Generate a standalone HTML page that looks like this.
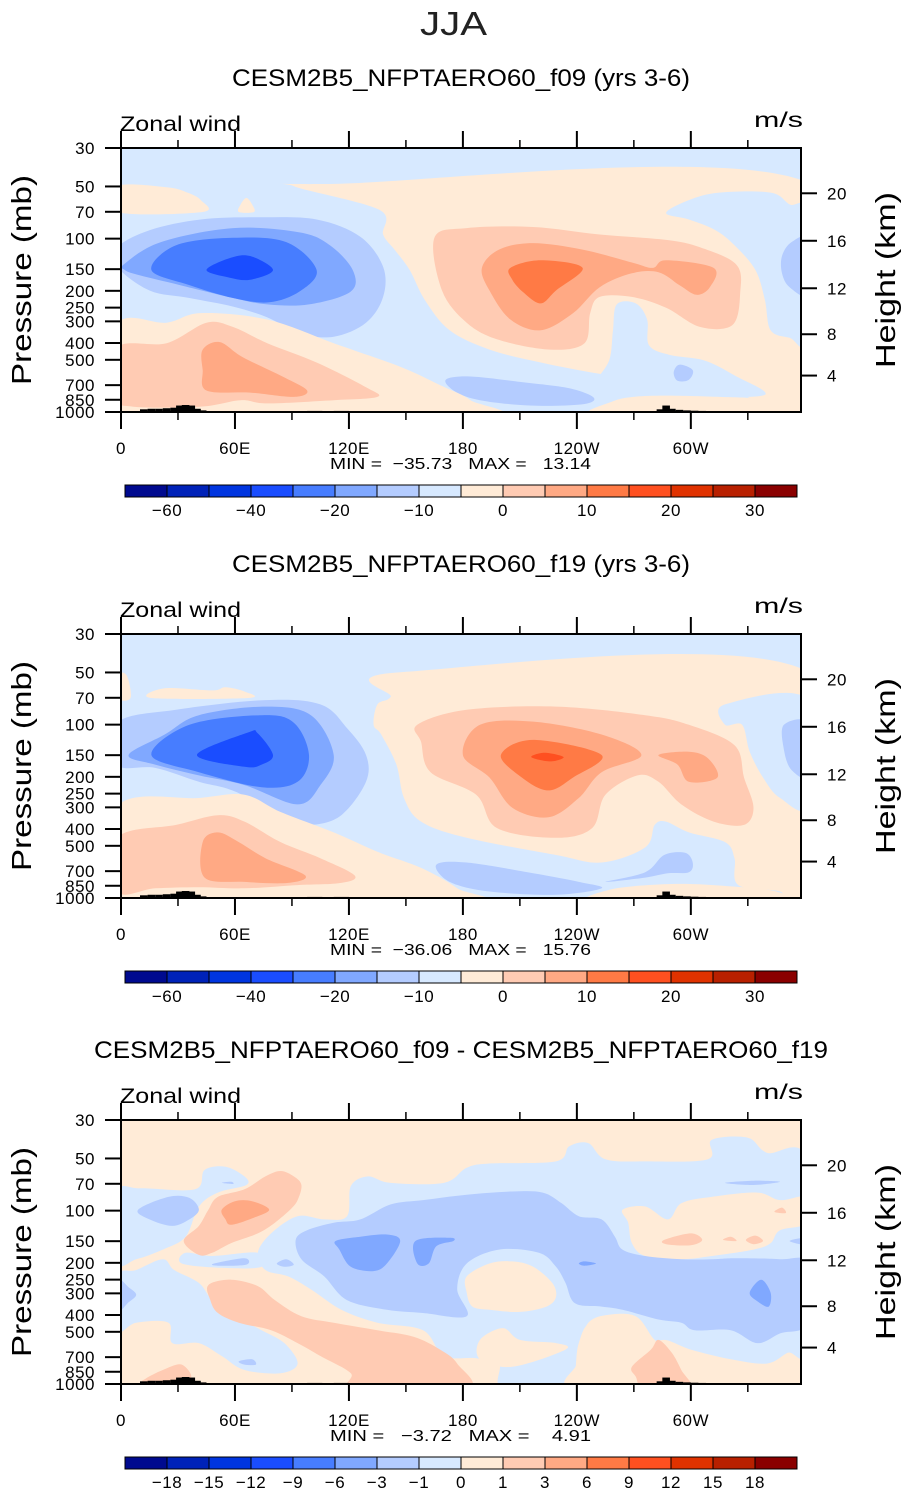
<!DOCTYPE html>
<html><head><meta charset="utf-8"><title>JJA Zonal wind</title>
<style>
html,body{margin:0;padding:0;background:#fff;}
svg{display:block;}
text{font-family:"Liberation Sans",sans-serif;fill:#000;}
.tk{font-size:17px;letter-spacing:0.5px;}
.ttl{font-size:24px;}
.ax{font-size:28px;}
.mm{font-size:16px;white-space:pre;}
</style></head>
<body>
<svg id="fig" width="907" height="1493" viewBox="0 0 907 1493" xmlns="http://www.w3.org/2000/svg">
<text x="420" y="35" textLength="67" lengthAdjust="spacingAndGlyphs" style="font-size:33px;fill:#222">JJA</text>
<text class="ttl" x="232" y="86" textLength="458" lengthAdjust="spacingAndGlyphs">CESM2B5_NFPTAERO60_f09 (yrs 3-6)</text>
<text class="ttl" x="232" y="572" textLength="458" lengthAdjust="spacingAndGlyphs">CESM2B5_NFPTAERO60_f19 (yrs 3-6)</text>
<text class="ttl" x="94" y="1058" textLength="734" lengthAdjust="spacingAndGlyphs">CESM2B5_NFPTAERO60_f09 - CESM2B5_NFPTAERO60_f19</text>
<g id="panels"></g>
</svg>
<script>
// ---------- data ----------
const fillColors = ["#000a8f","#0022b8","#0035e0","#1a4dff","#477dff","#80a8ff","#b4ccff","#d7e9ff","#ffebd7","#ffcbb3","#ffa984","#ff7a45","#ff5020","#e03200","#b82000","#8a0000"];
const cbLabels12 = ["-60","","-40","","-20","","-10","","0","","10","","20","","30"];
const cbLabels3 = ["-18","-15","-12","-9","-6","-3","-1","0","1","3","6","9","12","15","18"];
const pressureTicks = [30,50,70,100,150,200,250,300,400,500,700,850,1000];
const heightTicks = [4,8,12,16,20];
const lonMajor = [0,60,120,180,240,300];
const lonLabels = ["0","60E","120E","180","120W","60W"];
const lonMinor = [30,90,150,210,270,330];
const minVals = ["-35.73","-36.06","-3.72"];
const maxVals = ["13.14","15.76","4.91"];
const bgLevels = [7,7,8];
// topography bars: [lon, height in log-p km]
const topo = [[10,0.25],[14,0.3],[18,0.3],[22,0.35],[26,0.4],[29,0.6],[32,0.65],[35,0.6],[38,0.3],[41,0.15],[98,0.1],[102,0.1],[112,0.1],[116,0.1],[282,0.25],[285,0.6],[288,0.3],[292,0.2],[296,0.15],[300,0.12],[304,0.1]];

// contour regions: [levelIndex, [[lon, z(log-p km)], ...]]
const p1Regions = [
 [8,[[91,21.0],[110,21.2],[362,21.3],[362,0.7],[342,0.5],[326,1.6],[299,2.2],[273,3.0],[247,3.7],[221,4.6],[194,5.8],[173,7.6],[160,10.4],[152,13.2],[144,15.1],[138,16.5],[136,18.8]]],
 [8,[[-2,21.0],[24,20.9],[35,20.4],[42,19.7],[43,18.6],[-2,18.6]]],
 [8,[[63,19.3],[66,19.9],[69,19.3],[70,18.6],[62,18.6]]],
 [7,[[287,18.5],[299,19.7],[315,20.4],[342,20.4],[352,19.3],[362,18.3],[362,6.7],[352,6.9],[342,7.6],[339,10.4],[334,13.2],[323,15.5],[313,16.9],[299,17.9]]],
 [7,[[261,10.0],[271,10.1],[277,8.6],[278,6.2],[289,5.3],[307,4.8],[323,3.4],[339,1.6],[305,1.4],[273,1.4],[252,1.1],[249,2.5],[257,4.8],[259,7.6]]],
 [8,[[250,-0.5],[259,1.0],[278,1.5],[315,1.4],[336,1.1],[345,-0.5]]],
 [6,[[362,16.0],[353,15.8],[348,14.5],[348,12.9],[352,11.6],[362,11.0]]],
 [6,[[171,3.0],[184,3.3],[210,2.8],[236,2.2],[249,1.3],[242,0.7],[215,0.6],[189,1.1],[176,1.9]]],
 [6,[[291,3.7],[294,4.4],[301,3.9],[299,3.0],[293,2.9]]],
 [9,[[165,16.2],[182,17.1],[217,17.2],[252,16.5],[287,16.0],[305,15.3],[324,13.7],[326,11.1],[322,8.1],[305,7.9],[287,9.7],[269,10.7],[252,10.7],[247,9.2],[244,6.4],[226,5.8],[199,6.7],[182,8.3],[169,11.3]]],
 [10,[[190,13.4],[199,15.1],[217,15.7],[243,15.1],[269,13.9],[280,13.4],[287,14.1],[312,13.4],[310,11.6],[303,10.9],[294,11.8],[283,13.0],[269,12.9],[252,11.6],[238,9.2],[221,7.6],[205,8.6],[194,11.3]]],
 [11,[[205,13.4],[221,14.1],[243,13.4],[229,11.3],[221,10.1],[212,11.1],[206,12.3]]],
 [6,[[-2,15.3],[15,16.9],[42,17.9],[73,18.1],[103,17.9],[126,16.3],[138,13.5],[138,10.7],[129,8.3],[112,7.0],[94,7.3],[77,8.8],[59,9.8],[36,10.6],[15,11.3],[-2,13.5]]],
 [5,[[2,13.8],[21,15.8],[59,17.1],[94,16.7],[110,15.5],[122,13.2],[121,11.2],[99,10.0],[77,10.0],[59,10.6],[31,11.8],[10,12.7],[2,13.2]]],
 [4,[[16,13.2],[29,15.5],[59,16.2],[87,15.8],[103,13.2],[94,11.2],[78,10.2],[59,10.6],[36,11.8]]],
 [3,[[45,13.2],[57,14.3],[68,14.5],[80,13.2],[68,12.3],[57,12.5]]],
 [8,[[-2,8.1],[24,8.3],[42,9.2],[77,8.6],[112,6.4],[147,4.2],[168,2.5],[184,1.1],[189,-0.5],[-2,-0.5]]],
 [9,[[-2,6.0],[24,6.4],[45,8.3],[59,7.9],[77,6.4],[103,4.6],[129,2.3],[135,1.4],[112,1.1],[77,0.8],[63,1.1],[42,0.5],[6,0.5],[-2,1.4]]],
 [10,[[43,5.8],[52,6.5],[64,5.1],[85,3.3],[98,2.0],[91,1.4],[68,1.8],[45,2.0],[43,3.9]]]
];
const p2Regions = [
 [8,[[148,21.0],[362,21.0],[362,-0.5],[350,-0.5],[347,0.6],[325,1.2],[323,3.7],[318,5.2],[299,6.1],[287,7.1],[281,6.8],[276,4.7],[253,3.3],[229,4.0],[182,5.6],[158,7.1],[149,9.3],[145,12.4],[137,15.2],[133,16.1],[135,18.0],[142,18.7]]],
 [8,[[250,-0.5],[258,0.8],[290,1.3],[320,1.1],[345,0.6],[350,-0.5]]],
 [7,[[318,18.0],[362,18.4],[362,8.7],[347,9.3],[338,11.2],[331,13.6],[327,16.1],[318,16.1]]],
 [6,[[166,3.1],[182,3.3],[217,2.3],[241,1.5],[253,0.9],[229,0.3],[194,0.6],[173,1.5]]],
 [6,[[255,1.5],[276,2.4],[286,4.0],[297,4.2],[301,3.3],[299,2.4],[288,2.3],[276,1.9]]],
 [6,[[362,16.2],[349,16.1],[349,13.8],[353,11.9],[362,11.4]]],
 [9,[[156,16.1],[182,17.5],[229,17.8],[276,17.0],[299,16.1],[323,14.2],[328,11.2],[333,8.4],[328,6.8],[312,7.1],[295,8.7],[283,10.8],[272,11.4],[255,9.6],[248,6.5],[229,5.6],[198,6.5],[187,9.6],[163,11.7],[158,14.5]]],
 [10,[[180,13.3],[189,16.1],[217,16.4],[253,15.2],[274,13.3],[253,11.7],[241,9.3],[225,7.5],[206,8.4],[194,11.2]]],
 [10,[[283,13.3],[299,13.6],[309,13.0],[314,11.2],[299,10.8],[293,12.4]]],
 [11,[[200,13.3],[217,14.7],[253,13.3],[238,11.2],[225,10.0],[211,11.2]]],
 [12,[[216,13.1],[223,13.5],[233,13.1],[226,12.7]]],
 [6,[[-2,16.3],[29,17.5],[76,18.4],[105,18.0],[119,15.8],[129,13.3],[129,10.8],[116,7.7],[100,6.8],[88,7.4],[60,9.9],[41,10.8],[18,12.1],[-2,12.4]]],
 [5,[[4,13.3],[23,15.2],[41,17.0],[76,17.8],[100,17.0],[112,13.3],[105,10.5],[93,8.7],[65,10.5],[41,11.4],[18,12.4]]],
 [4,[[16,13.3],[36,16.1],[74,17.0],[91,16.3],[99,13.3],[93,10.8],[74,10.3],[41,11.7]]],
 [3,[[40,13.3],[67,15.4],[72,15.3],[80,13.3],[74,12.4],[65,12.2]]],
 [8,[[16,18.6],[23,19.5],[48,19.3],[55,19.6],[65,19.2],[67,18.6]]],
 [8,[[-2,20.7],[3,20.7],[5,18.6],[-2,18.6]]],
 [8,[[-2,8.5],[41,9.3],[65,9.6],[84,8.0],[112,6.1],[135,4.3],[158,2.8],[177,0.9],[182,-0.5],[-2,-0.5]]],
 [9,[[-2,5.6],[29,6.8],[51,7.7],[65,7.1],[84,5.2],[105,3.7],[123,2.1],[116,1.4],[93,1.2],[65,0.9],[41,1.0],[18,0.9],[-2,0.6]]],
 [10,[[43,5.2],[51,6.1],[62,5.2],[76,3.7],[97,2.1],[88,1.4],[65,1.5],[44,1.9]]]
];
const p3Regions = [
 [7,[[-2,17.8],[10,18.2],[39,18.1],[44,19.9],[55,20.2],[65,19.3],[66,18.5],[51,17.8],[41,16.5],[34,13.7],[22,12.5],[8,11.6],[-2,11.4]]],
 [7,[[34,12.2],[48,11.9],[72,12.2],[74,10.9],[53,10.8],[32,11.2]]],
 [7,[[-2,10.0],[8,10.6],[22,11.6],[28,10.6],[41,9.4],[48,7.8],[60,6.3],[74,5.0],[86,3.8],[93,1.9],[84,1.0],[65,1.3],[53,2.6],[41,3.8],[27,3.8],[25,5.7],[8,5.7],[-2,5.0]]],
 [7,[[121,18.4],[130,19.3],[142,18.7],[170,18.7],[182,20.1],[194,20.5],[229,20.7],[236,22.1],[246,22.4],[255,20.9],[276,20.7],[309,20.9],[311,22.7],[330,22.9],[340,21.5],[362,20.5],[362,3.8],[351,2.9],[340,1.9],[321,2.3],[300,3.2],[286,4.1],[276,3.5],[267,4.4],[248,5.7],[241,3.8],[239,1.0],[236,-0.5],[201,-0.5],[199,1.9],[187,2.4],[170,2.6],[159,5.0],[135,5.7],[116,6.9],[100,8.8],[88,10.0],[76,10.6],[72,12.2],[79,14.0],[93,15.6],[107,15.3],[119,15.6]]],
 [8,[[264,16.2],[276,16.5],[288,15.3],[295,16.8],[311,17.4],[335,17.8],[347,17.1],[362,17.4],[362,15.0],[347,14.3],[342,13.1],[333,12.5],[311,11.9],[295,11.6],[276,11.9],[269,13.1],[267,15.0]]],
 [8,[[246,5.7],[255,6.4],[271,6.3],[281,4.1],[290,3.2],[300,1.9],[311,1.0],[318,-0.5],[239,-0.5],[240,1.9],[243,4.1]]],
 [8,[[189,4.1],[201,5.2],[210,4.1],[229,3.8],[234,3.2],[206,1.6],[189,2.3]]],
 [6,[[-2,9.7],[4,9.0],[8,8.3],[4,7.6],[-2,6.8]]],
 [6,[[92,13.4],[98,14.3],[112,15.0],[126,15.3],[142,16.7],[159,17.1],[182,17.6],[206,17.9],[222,17.8],[232,16.8],[241,15.6],[253,15.3],[260,13.7],[264,12.5],[276,11.9],[295,11.6],[311,11.6],[323,11.7],[347,11.6],[362,11.2],[362,5.7],[347,4.7],[335,3.8],[321,5.0],[302,5.0],[295,5.7],[283,6.0],[264,6.9],[253,7.2],[239,7.5],[234,9.4],[229,10.9],[220,12.2],[199,12.5],[182,11.2],[177,8.8],[182,6.3],[159,6.6],[140,6.9],[119,7.8],[107,10.0],[95,11.6]]],
 [8,[[182,10.0],[194,11.2],[206,11.4],[217,10.9],[227,9.4],[229,8.1],[224,7.2],[210,6.7],[194,6.9],[185,7.2],[182,8.5]]],
 [6,[[9,16.2],[25,17.4],[36,17.3],[41,16.2],[36,15.3],[27,14.7],[15,15.3]]],
 [6,[[49,11.2],[65,11.7],[66,11.1],[51,11.0]]],
 [6,[[82,11.2],[87,11.6],[91,11.1],[86,10.9]]],
 [6,[[62,2.1],[69,2.3],[71,1.8],[65,1.8]]],
 [6,[[318,18.7],[333,18.9],[347,18.8],[333,18.5]]],
 [6,[[53,18.7],[58,18.8],[59,18.6]]],
 [6,[[352,13.3],[362,13.6],[362,12.9]]],
 [5,[[113,13.3],[126,13.7],[140,13.9],[147,13.3],[140,11.2],[133,10.5],[121,10.9],[115,12.5]]],
 [5,[[155,13.3],[173,13.6],[175,13.3],[166,12.8],[162,11.2],[156,11.2]]],
 [5,[[331,8.5],[337,9.7],[342,8.5],[341,7.2],[335,7.7]]],
 [5,[[241,11.2],[244,11.4],[250,11.2],[244,11.0]]],
 [9,[[33,13.3],[41,14.7],[46,16.2],[51,17.4],[65,18.1],[76,19.3],[84,19.8],[91,19.3],[95,18.5],[93,17.1],[89,16.2],[81,15.0],[72,14.0],[58,13.1],[48,12.2],[41,12.0]]],
 [10,[[53,16.2],[60,17.0],[69,17.0],[78,16.2],[69,15.4],[58,14.8],[55,15.3]]],
 [9,[[46,9.2],[58,9.7],[72,9.1],[81,7.8],[95,6.3],[112,5.7],[135,5.0],[154,4.4],[168,3.2],[177,1.9],[182,-0.5],[123,-0.5],[121,1.0],[105,2.6],[93,3.8],[79,5.0],[62,5.7],[51,6.6],[47,7.8]]],
 [9,[[13,0.5],[22,1.3],[32,1.8],[36,0.4],[13,0.2]]],
 [9,[[269,1.6],[279,3.2],[283,4.1],[290,2.9],[295,1.3],[300,-0.5],[276,-0.5],[271,0.7]]],
 [9,[[286,13.4],[300,14.0],[306,13.4],[300,12.9],[287,13.0]]],
 [9,[[317,13.4],[321,13.7],[324,13.3]]],
 [9,[[329,13.4],[334,13.8],[338,13.3],[333,13.0]]],
 [9,[[344,16.0],[348,16.4],[350,15.9]]]
];
const allRegions = [p1Regions, p2Regions, p3Regions];

// ---------- layout / axes ----------
const NS = "http://www.w3.org/2000/svg";
const PL = 121, PR = 801, PH = 264, PW = PR - PL;
const LON_MAX = 358;
const ZMAX = 7 * Math.log(1000 / 30);
const panelTops = [148, 634, 1120];
function xLon(lon){ return PL + lon / LON_MAX * PW; }
function zOfP(p){ return 7 * Math.log(1000 / p); }
function yZ(z, top){ return top + PH - z / ZMAX * PH; }
function stdPressure(hkm){
  const h = hkm * 1000;
  if (h <= 11000) return 1013.25 * Math.pow(1 - 2.25577e-5 * h, 5.25588);
  return 226.32 * Math.exp(-(h - 11000) / 6341.6);
}
function mk(tag, attrs, parent){
  const e = document.createElementNS(NS, tag);
  for (const k in attrs) e.setAttribute(k, attrs[k]);
  parent.appendChild(e);
  return e;
}
function smoothPath(pts){
  const n = pts.length;
  let d = "M" + pts[0][0].toFixed(1) + "," + pts[0][1].toFixed(1);
  for (let i = 0; i < n; i++){
    const p0 = pts[(i - 1 + n) % n], p1 = pts[i], p2 = pts[(i + 1) % n], p3 = pts[(i + 2) % n];
    const c1x = p1[0] + (p2[0] - p0[0]) / 6, c1y = p1[1] + (p2[1] - p0[1]) / 6;
    const c2x = p2[0] - (p3[0] - p1[0]) / 6, c2y = p2[1] - (p3[1] - p1[1]) / 6;
    d += "C" + c1x.toFixed(1) + "," + c1y.toFixed(1) + " " + c2x.toFixed(1) + "," + c2y.toFixed(1) + " " + p2[0].toFixed(1) + "," + p2[1].toFixed(1);
  }
  return d + "Z";
}

const root = document.getElementById("panels");
const defs = mk("defs", {}, root);

for (let pi = 0; pi < 3; pi++){
  const top = panelTops[pi], bot = top + PH;
  const g = mk("g", {}, root);
  
  

  const cp = mk("clipPath", {id: "clip" + pi}, defs);
  mk("rect", {x: PL, y: top, width: PW, height: PH}, cp);

  const field = mk("g", {"clip-path": "url(#clip" + pi + ")"}, g);
  
  
  const bg = mk("rect", {x: PL, y: top, width: PW, height: PH, fill: fillColors[bgLevels[pi]]}, field);
  
  
  allRegions[pi].forEach(function(r){
    const pts = r[1].map(function(q){ return [xLon(q[0]), yZ(q[1], top)]; });
    const path = mk("path", {d: smoothPath(pts), fill: fillColors[r[0]], stroke: "none"}, field);
    
    
  });
  topo.forEach(function(t){
    const x0 = xLon(t[0]), x1 = xLon(t[0] + 4);
    const yt = yZ(t[1], top);
    const bar = mk("rect", {x: x0, y: yt, width: x1 - x0, height: bot - yt, fill: "#000"}, field);
    
    
  });

  const frame = mk("rect", {x: PL, y: top, width: PW, height: PH, fill: "none", stroke: "#000", "stroke-width": 2}, g);
  
  

  lonMajor.forEach(function(l, i){
    const x = xLon(l);
    mk("line", {x1: x, x2: x, y1: top, y2: top - 17, stroke: "#000", "stroke-width": 2}, g);
    mk("line", {x1: x, x2: x, y1: bot, y2: bot + 17, stroke: "#000", "stroke-width": 2}, g);
    const t = mk("text", {x: x, y: bot + 42, "text-anchor": "middle", class: "tk"}, g);
    t.textContent = lonLabels[i];
    
    
  });
  lonMinor.forEach(function(l){
    const x = xLon(l);
    mk("line", {x1: x, x2: x, y1: top, y2: top - 8, stroke: "#000", "stroke-width": 1.5}, g);
    mk("line", {x1: x, x2: x, y1: bot, y2: bot + 8, stroke: "#000", "stroke-width": 1.5}, g);
  });
  pressureTicks.forEach(function(p){
    const y = yZ(zOfP(p), top);
    mk("line", {x1: PL, x2: PL - 16, y1: y, y2: y, stroke: "#000", "stroke-width": 2}, g);
    const t = mk("text", {x: 95, y: y + 6, "text-anchor": "end", class: "tk"}, g);
    t.textContent = String(p);
    
    
  });
  heightTicks.forEach(function(h){
    const y = yZ(zOfP(stdPressure(h)), top);
    mk("line", {x1: PR, x2: PR + 16, y1: y, y2: y, stroke: "#000", "stroke-width": 2}, g);
    const t = mk("text", {x: 827, y: y + 6, class: "tk"}, g);
    t.textContent = String(h);
    
    
  });

  const zw = mk("text", {x: 120, y: top - 17, textLength: 121, lengthAdjust: "spacingAndGlyphs", style: "font-size:21px"}, g);
  zw.textContent = "Zonal wind";
  
  
  const un = mk("text", {x: 754, y: top - 21, textLength: 49, lengthAdjust: "spacingAndGlyphs", style: "font-size:21px"}, g);
  un.textContent = "m/s";
  
  

  const yl = mk("text", {x: 0, y: 0, "text-anchor": "middle", class: "ax", textLength: 210, lengthAdjust: "spacingAndGlyphs", transform: "translate(31," + (top + 132) + ") rotate(-90)"}, g);
  yl.textContent = "Pressure (mb)";
  
  
  const hl = mk("text", {x: 0, y: 0, "text-anchor": "middle", class: "ax", textLength: 176, lengthAdjust: "spacingAndGlyphs", transform: "translate(895," + (top + 132) + ") rotate(-90)"}, g);
  hl.textContent = "Height (km)";
  
  

  const mm = mk("text", {x: 330, y: bot + 57, class: "mm", textLength: 261, lengthAdjust: "spacingAndGlyphs"}, g);
  mm.textContent = "MIN =  " + minVals[pi].replace("-", "\u2212").padStart(6, " ") + "   MAX =  " + maxVals[pi].padStart(6, " ");
  
  

  const cbTop = top + 337;
  const cb = mk("g", {}, g);
  
  
  const bw = 42;
  fillColors.forEach(function(c, i){
    const r = mk("rect", {x: 125 + i * bw, y: cbTop, width: bw, height: 12, fill: c, stroke: "#000", "stroke-width": 1}, cb);
    
    
  });
  const labs = pi === 2 ? cbLabels3 : cbLabels12;
  labs.forEach(function(s, i){
    if (!s) return;
    const t = mk("text", {x: 125 + (i + 1) * bw, y: cbTop + 31, "text-anchor": "middle", class: "tk"}, cb);
    t.textContent = s.replace("-", "\u2212");
    
    
  });
}
</script>
</body></html>
